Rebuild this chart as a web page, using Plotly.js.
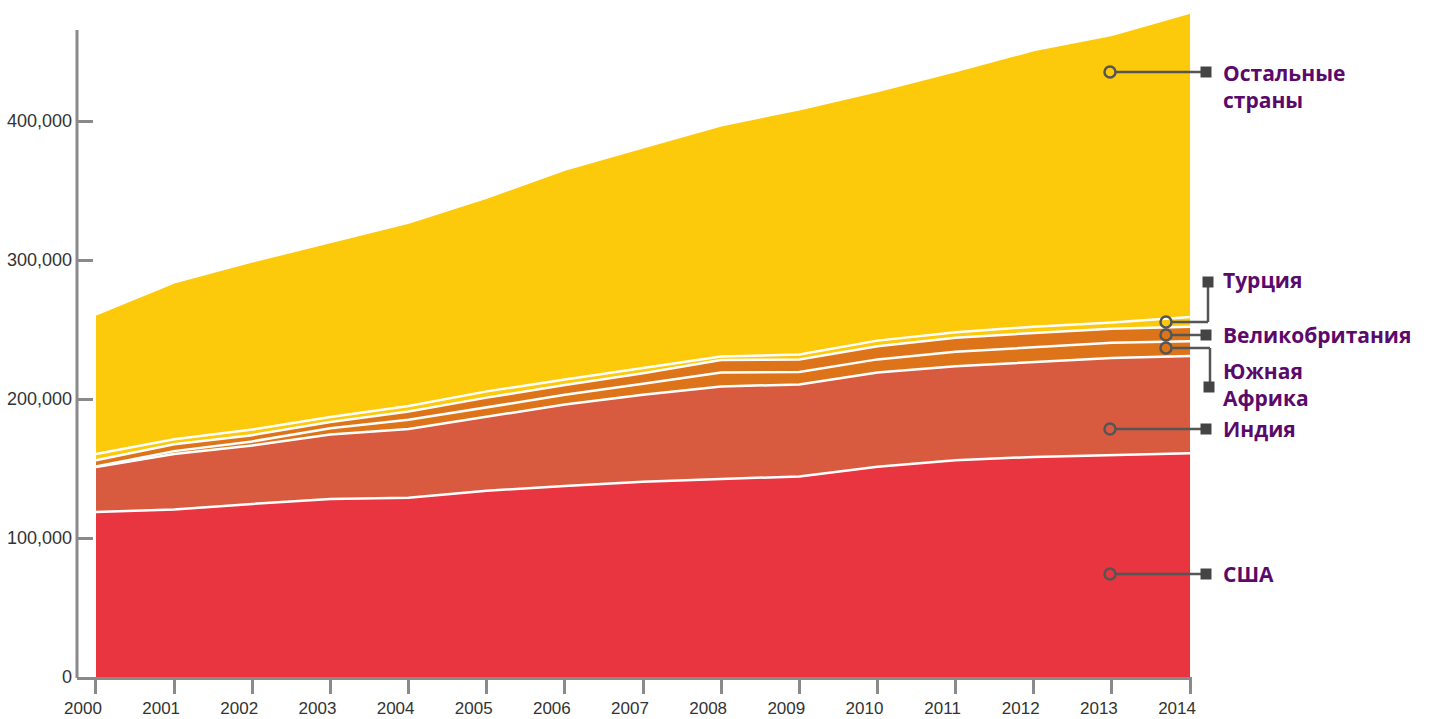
<!DOCTYPE html>
<html>
<head>
<meta charset="utf-8">
<script src="https://cdn.plot.ly/plotly-3.0.1.min.js"></script>
<style>html,body{margin:0;padding:0;background:#fff;}#chart{width:1429px;height:719px;}</style>
</head>
<body>
<div id="chart"></div>
<script>
var years = [2000, 2001, 2002, 2003, 2004, 2005, 2006, 2007, 2008, 2009, 2010, 2011, 2012, 2013, 2014];
var usa =         [118700, 120500, 124500, 128000, 129000, 134000, 137500, 140500, 142400, 144300, 151300, 156000, 158300, 159700, 161000];
var india =       [32300, 40000, 42000, 46500, 49500, 53500, 58500, 62500, 66600, 66200, 67700, 67500, 68200, 69800, 70000];
var southAfrica = [500, 2000, 3000, 4500, 6500, 6500, 7000, 8000, 10000, 9000, 9500, 10500, 11000, 11000, 10500];
var uk =          [4500, 5000, 4500, 4500, 6000, 7000, 7000, 7500, 9000, 9000, 9500, 10000, 10000, 10000, 10500];
var turkey =      [4500, 3500, 4000, 3500, 4000, 4500, 4000, 3500, 2500, 3500, 4000, 4000, 4500, 4500, 7000];
var others =      [100500, 113000, 121000, 126000, 132000, 139500, 151000, 159000, 166500, 176500, 179500, 188000, 199000, 207000, 219000];
var yTicks = [0, 100000, 200000, 300000, 400000];
var seriesNames = ['США', 'Индия', 'Южная Африка', 'Великобритания', 'Турция', 'Остальные страны'];

var series = [usa, india, southAfrica, uk, turkey, others];
var colors = ['#E9353F', '#D85B40', '#DD741A', '#DD741A', '#FDC90B', '#FDC90B'];

var traces = series.map(function (vals, i) {
  return {
    x: years, y: vals, name: seriesNames[i], type: 'scatter', mode: 'lines',
    stackgroup: 'one', fillcolor: colors[i],
    line: {color: '#FFFFFF', width: 2.5, shape: 'linear'},
    hoverinfo: 'skip'
  };
});

var ML = 77, MR = 237, MT = 3, MB = 42;
var W = 1429 - ML - MR, H = 719 - MT - MB;
function px(x) { return (x - ML) / W; }
function py(y) { return (719 - MB - y) / H; }

var grey = '#555555';
var shapes = [];
shapes.push({type: 'line', xref: 'paper', yref: 'paper', x0: 0, x1: 0, y0: py(678), y1: py(30),
  line: {color: '#8A8A8A', width: 3}, layer: 'above'});

function seg(x0, y0, x1, y1) {
  shapes.push({type: 'line', xref: 'paper', yref: 'paper', x0: px(x0), y0: py(y0), x1: px(x1), y1: py(y1),
    line: {color: grey, width: 2.5}, layer: 'above'});
}
function circ(x, y) {
  var r = 5.5;
  shapes.push({type: 'circle', xref: 'paper', yref: 'paper', x0: px(x - r), x1: px(x + r), y0: py(y + r), y1: py(y - r),
    line: {color: grey, width: 2.5}, fillcolor: 'rgba(0,0,0,0)', layer: 'above'});
}
function sq(x, y) {
  var s = 5.5;
  shapes.push({type: 'rect', xref: 'paper', yref: 'paper', x0: px(x - s), x1: px(x + s), y0: py(y + s), y1: py(y - s),
    line: {width: 0}, fillcolor: '#444444', layer: 'above'});
}
seg(1116, 72, 1201, 72); circ(1110, 72); sq(1206, 72);
seg(1172, 322, 1208, 322); seg(1208, 322, 1208, 282); circ(1166, 322); sq(1208, 282);
seg(1172, 335, 1201, 335); circ(1166, 335); sq(1206, 335);
seg(1172, 348, 1210, 348); seg(1210, 348, 1210, 387); circ(1166, 348); sq(1209, 387);
seg(1116, 429, 1201, 429); circ(1110, 429); sq(1206, 429);
seg(1116, 574, 1201, 574); circ(1110, 574); sq(1206, 574);

function lab(text, y) {
  return {xref: 'paper', yref: 'paper', x: px(1222), y: py(y), xanchor: 'left', yanchor: 'middle',
    text: '<b>' + text + '</b>', showarrow: false, align: 'left', borderpad: 0,
    font: {family: 'Open Sans, sans-serif', size: 21, color: '#5B0A6B', weight: 'bold'}};
}
var annotations = [
  lab('Остальные<br>страны', 87),
  lab('Турция', 280),
  lab('Великобритания', 335),
  lab('Южная<br>Африка', 384),
  lab('Индия', 429),
  lab('США', 574)
];

var layout = {
  width: 1429, height: 719,
  margin: {l: ML, r: MR, t: MT, b: MB, pad: 0},
  paper_bgcolor: '#FFFFFF', plot_bgcolor: '#FFFFFF',
  showlegend: false, hovermode: false,
  xaxis: {
    range: [1999.757, 2014.025], tickvals: years, ticktext: years.map(String),
    showgrid: false, zeroline: false, showline: true, linecolor: '#8A8A8A', linewidth: 3,
    ticks: 'outside', ticklen: 14, tickwidth: 3, tickcolor: '#8A8A8A',
    ticklabelshift: -13, ticklabelstandoff: 0,
    tickfont: {family: 'Liberation Sans, Arial, sans-serif', size: 17, color: '#333333'}
  },
  yaxis: {
    range: [0, 484900], tickvals: yTicks, tickformat: ',d',
    showgrid: false, zeroline: false, showline: false,
    ticks: 'inside', ticklen: 16, tickwidth: 3, tickcolor: '#8A8A8A',
    ticklabelstandoff: 4,
    tickfont: {family: 'Liberation Sans, Arial, sans-serif', size: 18, color: '#333333'}
  },
  shapes: shapes,
  annotations: annotations
};

Plotly.newPlot('chart', traces, layout, {displayModeBar: false, staticPlot: true});
</script>
</body>
</html>
